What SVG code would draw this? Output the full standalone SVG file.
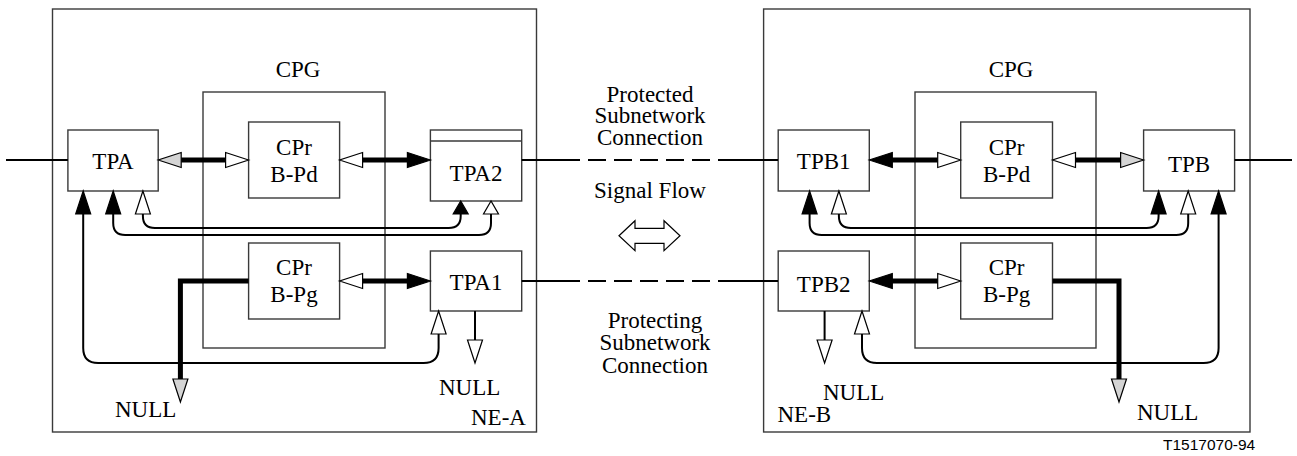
<svg xmlns="http://www.w3.org/2000/svg" xmlns:xlink="http://www.w3.org/1999/xlink" width="1297" height="456" viewBox="0 0 1297 456">
  <style>
    .frame { fill: none; stroke: #3a3a3a; stroke-width: 1.4; }
    .box { fill: #ffffff; stroke: #3a3a3a; stroke-width: 1.4; }
    .wire { fill: none; stroke: #000; stroke-width: 2; }
    .thick { fill: none; stroke: #000; stroke-width: 5; }
    .w { fill: #ffffff; stroke: #000; stroke-width: 1.2; stroke-linejoin: miter; }
    .b { fill: #000; stroke: #000; stroke-width: 1.2; }
    .g { fill: #d4d4d4; stroke: #000; stroke-width: 1.2; }
    .t { font-family: "Liberation Serif", "Times New Roman", serif; font-size: 23px; fill: #000; }
    .c { text-anchor: middle; }
    .code { font-family: "Liberation Sans", Arial, sans-serif; font-size: 15.5px; fill: #000; }
  </style>
  <defs>
    <!-- arrowheads: tip at the origin, pointing along +x -->
    <path id="head" d="M0,0 L-23,-7.5 L-23,7.5 Z"/>
    <path id="headS" d="M0,0 L-13,-7.5 L-13,7.5 Z"/>
  </defs>

  <rect width="1297" height="456" fill="#ffffff"/>

  <!-- network element A -->
  <g id="ne-a">
    <rect class="frame" x="52.5" y="9" width="484" height="423"/>
    <text class="t" x="471" y="425">NE-A</text>
  </g>
  <g id="cpg-a">
    <rect class="frame" x="203" y="92" width="182" height="256"/>
    <text class="t c" x="298" y="77">CPG</text>
  </g>
  <g id="tpa">
    <rect class="box" x="67.9" y="130" width="90.3" height="61"/>
    <text class="t c" x="113" y="169">TPA</text>
  </g>
  <g id="cpr-bpd-a">
    <rect class="box" x="248.6" y="122" width="91" height="76"/>
    <text class="t c" x="294" y="155">CPr</text>
    <text class="t c" x="294" y="182">B-Pd</text>
  </g>
  <g id="tpa2">
    <rect class="box" x="430.4" y="130" width="91.3" height="71"/>
    <line class="frame" x1="430.4" y1="141" x2="521.7" y2="141"/>
    <text class="t c" x="476" y="181">TPA2</text>
  </g>
  <g id="cpr-bpg-a">
    <rect class="box" x="248.6" y="243" width="91" height="76"/>
    <text class="t c" x="294" y="275">CPr</text>
    <text class="t c" x="294" y="302">B-Pg</text>
  </g>
  <g id="tpa1">
    <rect class="box" x="430.4" y="251" width="91.3" height="60"/>
    <text class="t c" x="476" y="290">TPA1</text>
  </g>
  <g id="null-a">
    <text class="t" x="115" y="417">NULL</text>
    <text class="t" x="439" y="395">NULL</text>
  </g>

  <!-- network element B -->
  <g id="ne-b">
    <rect class="frame" x="763.6" y="9" width="486.4" height="423"/>
    <text class="t" x="777.5" y="422">NE-B</text>
  </g>
  <g id="cpg-b">
    <rect class="frame" x="915" y="92" width="181" height="256"/>
    <text class="t c" x="1011" y="77">CPG</text>
  </g>
  <g id="tpb1">
    <rect class="box" x="778.2" y="130" width="91.1" height="61"/>
    <text class="t c" x="823.7" y="169">TPB1</text>
  </g>
  <g id="cpr-bpd-b">
    <rect class="box" x="960.7" y="122" width="91.8" height="76"/>
    <text class="t c" x="1006.6" y="155">CPr</text>
    <text class="t c" x="1006.6" y="182">B-Pd</text>
  </g>
  <g id="tpb">
    <rect class="box" x="1143.6" y="130" width="91" height="61"/>
    <text class="t c" x="1189" y="172">TPB</text>
  </g>
  <g id="tpb2">
    <rect class="box" x="778.2" y="251" width="91.1" height="60"/>
    <text class="t c" x="823.7" y="292">TPB2</text>
  </g>
  <g id="cpr-bpg-b">
    <rect class="box" x="960.7" y="243" width="91.8" height="76"/>
    <text class="t c" x="1006.6" y="275">CPr</text>
    <text class="t c" x="1006.6" y="302">B-Pg</text>
  </g>
  <g id="null-b">
    <text class="t" x="823" y="400">NULL</text>
    <text class="t" x="1137" y="420">NULL</text>
  </g>

  <!-- subnetwork connection labels and signal flow -->
  <g id="labels">
    <text class="t c" x="650" y="101.7">Protected</text>
    <text class="t c" x="650" y="123.3">Subnetwork</text>
    <text class="t c" x="650" y="145">Connection</text>
    <text class="t c" x="650" y="198">Signal Flow</text>
    <path class="w" d="M619,235.7 L635,220.7 L635,228.3 L664,228.3 L664,220.7 L680,235.7 L664,250.7 L664,243.3 L635,243.3 L635,250.7 Z"/>
    <text class="t c" x="655" y="328">Protecting</text>
    <text class="t c" x="655" y="350">Subnetwork</text>
    <text class="t c" x="655" y="372.7">Connection</text>
    <text class="code" x="1163" y="450">T1517070-94</text>
  </g>

  <g id="connectors">
    <!-- external trails -->
    <line class="wire" x1="6" y1="160" x2="67.9" y2="160"/>
    <line class="wire" x1="1234.6" y1="160" x2="1292" y2="160"/>
    <!-- subnetwork connections between the two elements -->
    <line class="wire" x1="521.7" y1="160" x2="778.2" y2="160" stroke-dasharray="58.3 8 18 8 18 8 18 8 18 8 18 8 60"/>
    <line class="wire" x1="521.7" y1="281" x2="778.2" y2="281" stroke-dasharray="58.3 8 18 8 18 8 18 8 18 8 18 8 60"/>

    <!-- NE-A, protected row -->
    <line class="thick" x1="181" y1="160" x2="225" y2="160"/>
    <use xlink:href="#head" class="g" transform="translate(158.2,160) rotate(180)"/>
    <use xlink:href="#head" class="w" transform="translate(248.6,160)"/>
    <line class="thick" x1="362" y1="160" x2="407" y2="160"/>
    <use xlink:href="#head" class="w" transform="translate(339.6,160) rotate(180)"/>
    <use xlink:href="#head" class="b" transform="translate(430.4,160)"/>

    <!-- NE-A, protecting row -->
    <path class="thick" d="M248.6,281 H180.4 V381"/>
    <use xlink:href="#head" class="g" transform="translate(180.4,402) rotate(90)"/>
    <line class="thick" x1="362" y1="281" x2="407" y2="281"/>
    <use xlink:href="#head" class="w" transform="translate(339.6,281) rotate(180)"/>
    <use xlink:href="#head" class="b" transform="translate(430.4,281)"/>

    <!-- NE-A control loops -->
    <path class="wire" d="M113.2,213 V223 Q113.2,235 125.2,235 H479 Q491,235 491,223 V214"/>
    <path class="wire" d="M142.9,213 V216 Q142.9,228 154.9,228 H448.7 Q460.7,228 460.7,216 V214"/>
    <path class="wire" d="M83.2,213 V348 Q83.2,363 98.2,363 H423.6 Q438.6,363 438.6,348 V334"/>
    <use xlink:href="#head" class="b" transform="translate(83.2,191) rotate(-90)"/>
    <use xlink:href="#head" class="b" transform="translate(113.2,191) rotate(-90)"/>
    <use xlink:href="#head" class="w" transform="translate(142.9,191) rotate(-90)"/>
    <use xlink:href="#headS" class="b" transform="translate(460.7,201) rotate(-90)"/>
    <use xlink:href="#headS" class="w" transform="translate(491,201) rotate(-90)"/>
    <use xlink:href="#head" class="w" transform="translate(438.6,311) rotate(-90)"/>
    <line class="wire" x1="475" y1="311" x2="475" y2="341"/>
    <use xlink:href="#head" class="w" transform="translate(475,363) rotate(90)"/>

    <!-- NE-B, protected row -->
    <line class="thick" x1="892" y1="160" x2="939" y2="160"/>
    <use xlink:href="#head" class="b" transform="translate(869.3,160) rotate(180)"/>
    <use xlink:href="#head" class="w" transform="translate(960.7,160)"/>
    <line class="thick" x1="1075" y1="160" x2="1121" y2="160"/>
    <use xlink:href="#head" class="w" transform="translate(1052.5,160) rotate(180)"/>
    <use xlink:href="#head" class="g" transform="translate(1143.6,160)"/>

    <!-- NE-B, protecting row -->
    <line class="thick" x1="892" y1="281" x2="939" y2="281"/>
    <use xlink:href="#head" class="b" transform="translate(869.3,281) rotate(180)"/>
    <use xlink:href="#head" class="w" transform="translate(960.7,281)"/>
    <path class="thick" d="M1052.5,281 H1119 V381"/>
    <use xlink:href="#head" class="g" transform="translate(1119,402) rotate(90)"/>

    <!-- NE-B control loops -->
    <path class="wire" d="M809.6,213 V223 Q809.6,235 821.6,235 H1176.2 Q1188.2,235 1188.2,223 V213"/>
    <path class="wire" d="M838.9,213 V216 Q838.9,228 850.9,228 H1146.6 Q1158.6,228 1158.6,216 V213"/>
    <path class="wire" d="M1218.6,213 V348 Q1218.6,363 1203.6,363 H877 Q862,363 862,348 V334"/>
    <use xlink:href="#head" class="b" transform="translate(809.6,191) rotate(-90)"/>
    <use xlink:href="#head" class="w" transform="translate(838.9,191) rotate(-90)"/>
    <use xlink:href="#head" class="b" transform="translate(1158.6,191) rotate(-90)"/>
    <use xlink:href="#head" class="w" transform="translate(1188.2,191) rotate(-90)"/>
    <use xlink:href="#head" class="b" transform="translate(1218.6,191) rotate(-90)"/>
    <use xlink:href="#head" class="w" transform="translate(862,311) rotate(-90)"/>
    <line class="wire" x1="824.6" y1="311" x2="824.6" y2="341"/>
    <use xlink:href="#head" class="w" transform="translate(824.6,363) rotate(90)"/>
  </g>
</svg>
